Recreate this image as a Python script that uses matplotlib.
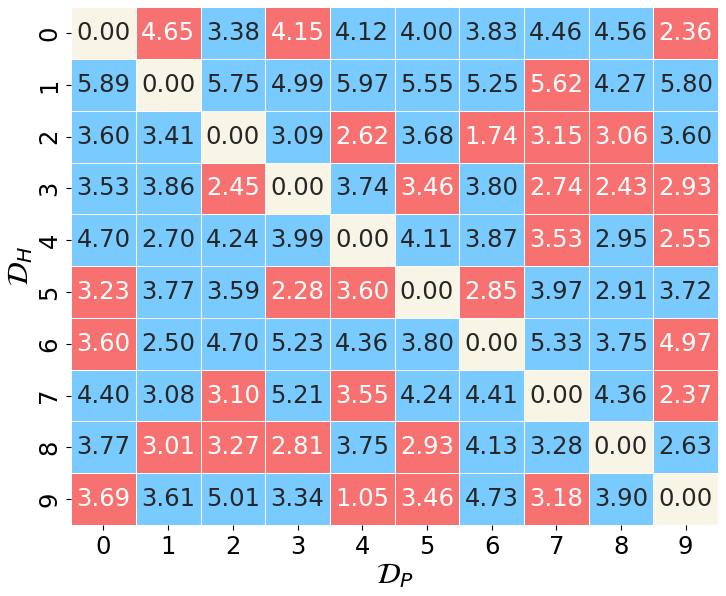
import numpy as np
import matplotlib
matplotlib.use("Agg")
import matplotlib.pyplot as plt
from matplotlib.colors import ListedColormap
import seaborn as sns

labels = [str(i) for i in range(10)]

values = np.array([
    [0.00, 4.65, 3.38, 4.15, 4.12, 4.00, 3.83, 4.46, 4.56, 2.36],
    [5.89, 0.00, 5.75, 4.99, 5.97, 5.55, 5.25, 5.62, 4.27, 5.80],
    [3.60, 3.41, 0.00, 3.09, 2.62, 3.68, 1.74, 3.15, 3.06, 3.60],
    [3.53, 3.86, 2.45, 0.00, 3.74, 3.46, 3.80, 2.74, 2.43, 2.93],
    [4.70, 2.70, 4.24, 3.99, 0.00, 4.11, 3.87, 3.53, 2.95, 2.55],
    [3.23, 3.77, 3.59, 2.28, 3.60, 0.00, 2.85, 3.97, 2.91, 3.72],
    [3.60, 2.50, 4.70, 5.23, 4.36, 3.80, 0.00, 5.33, 3.75, 4.97],
    [4.40, 3.08, 3.10, 5.21, 3.55, 4.24, 4.41, 0.00, 4.36, 2.37],
    [3.77, 3.01, 3.27, 2.81, 3.75, 2.93, 4.13, 3.28, 0.00, 2.63],
    [3.69, 3.61, 5.01, 3.34, 1.05, 3.46, 4.73, 3.18, 3.90, 0.00],
])

# 0 = diagonal, 1 = red, 2 = blue
category = np.array([
    [0, 1, 2, 1, 2, 2, 2, 2, 2, 1],
    [2, 0, 2, 2, 2, 2, 2, 1, 2, 2],
    [2, 2, 0, 2, 1, 2, 1, 1, 1, 2],
    [2, 2, 1, 0, 2, 1, 2, 1, 1, 1],
    [2, 2, 2, 2, 0, 2, 2, 1, 2, 1],
    [1, 2, 2, 1, 1, 0, 1, 2, 2, 2],
    [1, 2, 2, 2, 2, 2, 0, 2, 2, 1],
    [2, 2, 1, 2, 1, 2, 2, 0, 2, 1],
    [2, 1, 1, 1, 2, 1, 2, 2, 0, 2],
    [1, 2, 2, 2, 1, 1, 2, 1, 2, 0],
])

cmap = ListedColormap(["#f8f4e6", "#f87171", "#78caff"])

fig = plt.figure(figsize=(7.26, 5.96), dpi=100)
ax = fig.add_axes([0.098, 0.119, 0.891, 0.869])

sns.heatmap(category, ax=ax, cmap=cmap, vmin=-0.5, vmax=2.5, cbar=False,
            annot=values, fmt=".2f", annot_kws={"size": 17.5},
            linewidths=0.5, linecolor="white",
            xticklabels=labels, yticklabels=labels)

for txt, cat in zip(ax.texts, category.flatten()):
    txt.set_color("white" if cat == 1 else "#262626")

ax.tick_params(labelsize=17.5)
plt.setp(ax.get_yticklabels(), rotation=90, va="center")
ax.set_xlabel(r"$\mathcal{D}_P$", fontsize=21, labelpad=2)
ax.set_ylabel(r"$\mathcal{D}_H$", fontsize=21, labelpad=2)

fig.savefig("out.png", dpi=100)
